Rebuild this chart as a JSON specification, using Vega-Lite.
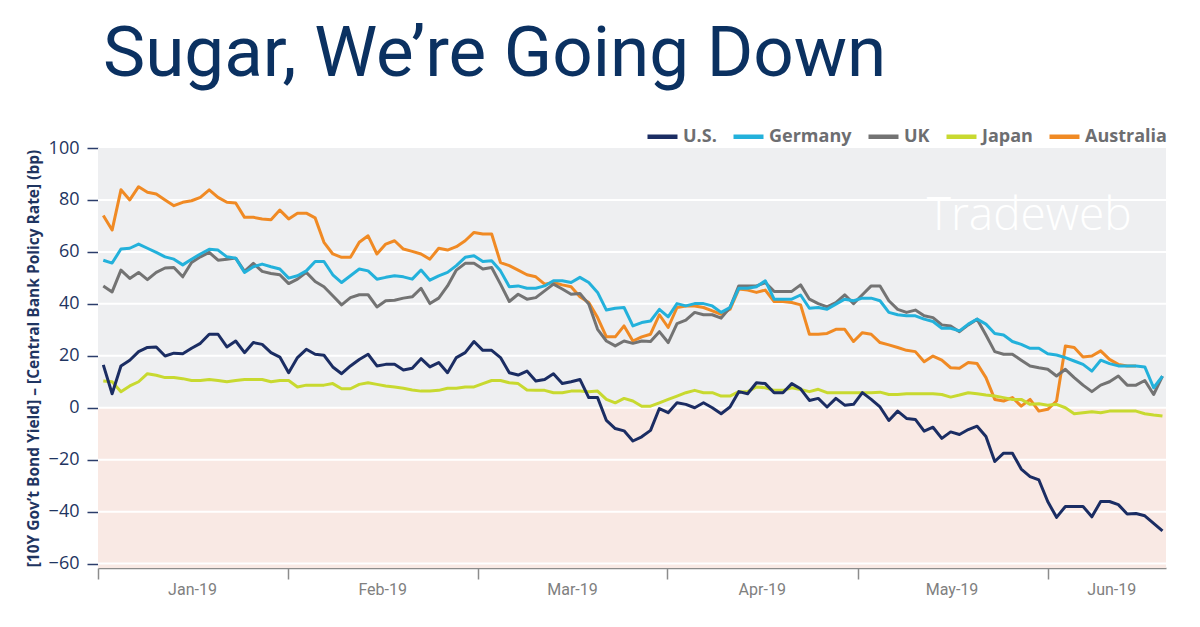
{
  "$schema": "https://vega.github.io/schema/vega-lite/v6.json",
  "width": 1068,
  "height": 420,
  "autosize": {"type": "none"},
  "padding": {"left": 98, "top": 148, "right": 34, "bottom": 59},
  "background": "white",
  "config": {"view": {"stroke": null}},
  "title": {
    "text": "Sugar, We’re Going Down",
    "anchor": "start",
    "frame": "group",
    "font": "Roboto",
    "fontSize": 71,
    "fontWeight": "normal",
    "color": "#0b3161",
    "baseline": "alphabetic",
    "dx": 5,
    "offset": -28
  },
  "layer": [
    {
      "data": {"values": [{"lo": 0, "hi": 100}, {"lo": -61.7, "hi": 0}]},
      "mark": {"type": "rect"},
      "encoding": {
        "x": {"datum": -0.6, "type": "quantitative"},
        "x2": {"datum": 120.4},
        "y": {"field": "lo", "type": "quantitative"},
        "y2": {"field": "hi"},
        "color": {"condition": {"test": "datum.lo >= 0", "value": "#eeeff1"}, "value": "#f9e9e4"}
      }
    },
    {
      "data": {"values": [{"g": -60}, {"g": -40}, {"g": -20}, {"g": 0}, {"g": 20}, {"g": 40}, {"g": 60}, {"g": 80}]},
      "mark": {"type": "rule", "color": "#ffffff", "strokeWidth": 2},
      "encoding": {"y": {"field": "g", "type": "quantitative"}}
    },
    {
      "data": {"values": [{"label": "Tradeweb"}]},
      "mark": {"type": "text", "font": "Open Sans", "fontWeight": 300, "fontSize": 46, "color": "#ffffff", "align": "left", "baseline": "alphabetic"},
      "encoding": {
        "x": {"datum": 93.3, "type": "quantitative"},
        "y": {"datum": 68.4, "type": "quantitative"},
        "text": {"field": "label"}
      }
    },
    {
      "data": {"values": [
        {"day":0,"US":16.5,"Germany":56.8,"UK":46.9,"Japan":10.3,"Australia":74.0},
        {"day":1,"US":5.4,"Germany":55.7,"UK":44.6,"Japan":10.0,"Australia":68.4},
        {"day":2,"US":16.1,"Germany":61.1,"UK":53.0,"Japan":6.2,"Australia":83.9},
        {"day":3,"US":18.3,"Germany":61.4,"UK":49.8,"Japan":8.4,"Australia":80.0},
        {"day":4,"US":21.6,"Germany":63.0,"UK":52.1,"Japan":10.0,"Australia":85.1},
        {"day":5,"US":23.2,"Germany":61.4,"UK":49.3,"Japan":13.1,"Australia":83.0},
        {"day":6,"US":23.4,"Germany":59.8,"UK":52.1,"Japan":12.5,"Australia":82.3},
        {"day":7,"US":19.9,"Germany":58.1,"UK":53.8,"Japan":11.6,"Australia":80.0},
        {"day":8,"US":21.0,"Germany":57.2,"UK":54.0,"Japan":11.6,"Australia":77.8},
        {"day":9,"US":20.8,"Germany":55.0,"UK":50.4,"Japan":11.2,"Australia":79.1},
        {"day":10,"US":22.9,"Germany":57.2,"UK":55.9,"Japan":10.5,"Australia":79.7},
        {"day":11,"US":24.8,"Germany":59.2,"UK":58.1,"Japan":10.5,"Australia":81.0},
        {"day":12,"US":28.3,"Germany":61.0,"UK":59.8,"Japan":10.9,"Australia":83.9},
        {"day":13,"US":28.3,"Germany":60.7,"UK":56.8,"Japan":10.5,"Australia":81.0},
        {"day":14,"US":23.4,"Germany":58.1,"UK":57.2,"Japan":10.0,"Australia":79.1},
        {"day":15,"US":25.7,"Germany":57.6,"UK":57.6,"Japan":10.5,"Australia":78.8},
        {"day":16,"US":21.2,"Germany":52.1,"UK":52.5,"Japan":10.9,"Australia":73.3},
        {"day":17,"US":25.1,"Germany":54.3,"UK":55.6,"Japan":10.9,"Australia":73.3},
        {"day":18,"US":24.4,"Germany":55.3,"UK":52.5,"Japan":10.9,"Australia":72.7},
        {"day":19,"US":21.2,"Germany":54.3,"UK":51.7,"Japan":10.0,"Australia":72.4},
        {"day":20,"US":19.5,"Germany":53.4,"UK":51.2,"Japan":10.5,"Australia":76.1},
        {"day":21,"US":13.5,"Germany":49.9,"UK":47.8,"Japan":10.5,"Australia":72.7},
        {"day":22,"US":19.3,"Germany":50.8,"UK":49.5,"Japan":8.0,"Australia":74.9},
        {"day":23,"US":22.5,"Germany":52.7,"UK":52.1,"Japan":8.7,"Australia":74.9},
        {"day":24,"US":20.6,"Germany":56.3,"UK":48.6,"Japan":8.7,"Australia":73.1},
        {"day":25,"US":20.2,"Germany":56.3,"UK":46.6,"Japan":8.7,"Australia":63.7},
        {"day":26,"US":15.7,"Germany":51.2,"UK":43.1,"Japan":9.3,"Australia":59.2},
        {"day":27,"US":13.1,"Germany":48.2,"UK":39.6,"Japan":7.3,"Australia":57.9},
        {"day":28,"US":16.1,"Germany":50.8,"UK":42.4,"Japan":7.3,"Australia":57.9},
        {"day":29,"US":18.6,"Germany":53.4,"UK":43.5,"Japan":9.0,"Australia":63.7},
        {"day":30,"US":20.6,"Germany":52.7,"UK":43.5,"Japan":9.6,"Australia":66.2},
        {"day":31,"US":16.1,"Germany":49.5,"UK":38.8,"Japan":9.0,"Australia":59.2},
        {"day":32,"US":16.7,"Germany":50.2,"UK":41.2,"Japan":8.4,"Australia":63.0},
        {"day":33,"US":16.7,"Germany":50.8,"UK":41.4,"Japan":8.0,"Australia":64.3},
        {"day":34,"US":14.5,"Germany":50.4,"UK":42.2,"Japan":7.5,"Australia":61.1},
        {"day":35,"US":15.2,"Germany":49.5,"UK":42.7,"Japan":6.8,"Australia":60.2},
        {"day":36,"US":18.9,"Germany":53.0,"UK":46.0,"Japan":6.4,"Australia":59.2},
        {"day":37,"US":15.7,"Germany":49.1,"UK":40.1,"Japan":6.4,"Australia":57.2},
        {"day":38,"US":17.4,"Germany":50.8,"UK":42.2,"Japan":6.7,"Australia":61.4},
        {"day":39,"US":13.5,"Germany":52.1,"UK":46.9,"Japan":7.5,"Australia":60.7},
        {"day":40,"US":19.3,"Germany":54.7,"UK":53.0,"Japan":7.5,"Australia":62.0},
        {"day":41,"US":21.2,"Germany":57.9,"UK":55.6,"Japan":8.0,"Australia":64.3},
        {"day":42,"US":25.5,"Germany":58.5,"UK":55.6,"Japan":8.0,"Australia":67.5},
        {"day":43,"US":22.1,"Germany":56.3,"UK":53.4,"Japan":9.3,"Australia":66.9},
        {"day":44,"US":22.1,"Germany":56.6,"UK":54.0,"Japan":10.5,"Australia":66.9},
        {"day":45,"US":19.3,"Germany":52.7,"UK":47.6,"Japan":10.5,"Australia":55.9},
        {"day":46,"US":13.5,"Germany":46.6,"UK":40.9,"Japan":9.6,"Australia":54.7},
        {"day":47,"US":12.6,"Germany":46.9,"UK":43.7,"Japan":9.3,"Australia":53.0},
        {"day":48,"US":14.1,"Germany":46.0,"UK":41.8,"Japan":6.8,"Australia":51.2},
        {"day":49,"US":10.3,"Germany":46.0,"UK":42.4,"Japan":6.7,"Australia":50.4},
        {"day":50,"US":10.9,"Germany":46.9,"UK":45.0,"Japan":6.7,"Australia":47.6},
        {"day":51,"US":13.1,"Germany":48.9,"UK":47.6,"Japan":5.8,"Australia":48.2},
        {"day":52,"US":9.3,"Germany":48.9,"UK":45.7,"Japan":5.8,"Australia":47.3},
        {"day":53,"US":10.0,"Germany":48.2,"UK":43.7,"Japan":6.4,"Australia":46.6},
        {"day":54,"US":10.9,"Germany":50.2,"UK":44.0,"Japan":6.4,"Australia":42.7},
        {"day":55,"US":3.9,"Germany":48.2,"UK":39.9,"Japan":6.2,"Australia":40.5},
        {"day":56,"US":3.9,"Germany":44.4,"UK":30.2,"Japan":6.4,"Australia":34.7},
        {"day":57,"US":-4.9,"Germany":37.6,"UK":25.7,"Japan":3.2,"Australia":27.3},
        {"day":58,"US":-8.0,"Germany":38.3,"UK":23.8,"Japan":1.9,"Australia":27.3},
        {"day":59,"US":-8.9,"Germany":38.6,"UK":25.7,"Japan":3.6,"Australia":31.5},
        {"day":60,"US":-12.8,"Germany":31.5,"UK":24.8,"Japan":2.6,"Australia":25.7},
        {"day":61,"US":-11.2,"Germany":32.8,"UK":25.7,"Japan":0.6,"Australia":27.3},
        {"day":62,"US":-8.7,"Germany":33.4,"UK":25.5,"Japan":0.6,"Australia":28.3},
        {"day":63,"US":-0.3,"Germany":37.9,"UK":29.3,"Japan":1.9,"Australia":35.8},
        {"day":64,"US":-1.9,"Germany":35.0,"UK":25.1,"Japan":3.2,"Australia":30.9},
        {"day":65,"US":1.9,"Germany":40.1,"UK":32.4,"Japan":4.5,"Australia":38.6},
        {"day":66,"US":1.3,"Germany":39.2,"UK":33.7,"Japan":5.8,"Australia":39.2},
        {"day":67,"US":0.0,"Germany":40.1,"UK":36.7,"Japan":6.7,"Australia":39.2},
        {"day":68,"US":1.9,"Germany":40.1,"UK":35.8,"Japan":5.8,"Australia":38.6},
        {"day":69,"US":0.0,"Germany":39.2,"UK":35.8,"Japan":5.8,"Australia":37.3},
        {"day":70,"US":-2.3,"Germany":36.7,"UK":34.5,"Japan":4.5,"Australia":36.0},
        {"day":71,"US":0.3,"Germany":38.6,"UK":38.6,"Japan":4.5,"Australia":37.9},
        {"day":72,"US":6.2,"Germany":46.0,"UK":46.9,"Japan":6.2,"Australia":45.7},
        {"day":73,"US":5.4,"Germany":46.0,"UK":46.9,"Japan":6.2,"Australia":45.3},
        {"day":74,"US":9.6,"Germany":46.6,"UK":46.9,"Japan":8.0,"Australia":44.4},
        {"day":75,"US":9.3,"Germany":48.9,"UK":48.2,"Japan":7.7,"Australia":45.3},
        {"day":76,"US":5.8,"Germany":41.8,"UK":44.8,"Japan":6.7,"Australia":40.9},
        {"day":77,"US":5.8,"Germany":41.8,"UK":44.8,"Japan":6.7,"Australia":40.9},
        {"day":78,"US":9.3,"Germany":41.8,"UK":44.8,"Japan":7.7,"Australia":40.5},
        {"day":79,"US":7.3,"Germany":43.4,"UK":47.3,"Japan":7.0,"Australia":39.6},
        {"day":80,"US":2.8,"Germany":38.3,"UK":41.8,"Japan":6.2,"Australia":28.3},
        {"day":81,"US":3.6,"Germany":38.6,"UK":40.1,"Japan":7.1,"Australia":28.3},
        {"day":82,"US":0.3,"Germany":37.9,"UK":38.8,"Japan":5.8,"Australia":28.6},
        {"day":83,"US":3.6,"Germany":39.9,"UK":40.5,"Japan":5.8,"Australia":30.2},
        {"day":84,"US":1.0,"Germany":41.8,"UK":43.5,"Japan":5.8,"Australia":30.2},
        {"day":85,"US":1.3,"Germany":41.2,"UK":40.1,"Japan":5.8,"Australia":25.5},
        {"day":86,"US":5.8,"Germany":42.2,"UK":43.5,"Japan":5.8,"Australia":28.9},
        {"day":87,"US":3.2,"Germany":42.2,"UK":46.9,"Japan":5.8,"Australia":28.3},
        {"day":88,"US":0.3,"Germany":41.2,"UK":46.9,"Japan":6.0,"Australia":25.1},
        {"day":89,"US":-4.9,"Germany":36.7,"UK":41.2,"Japan":5.1,"Australia":24.2},
        {"day":90,"US":-1.3,"Germany":35.8,"UK":37.9,"Japan":5.1,"Australia":23.2},
        {"day":91,"US":-4.1,"Germany":35.4,"UK":36.7,"Japan":5.4,"Australia":22.1},
        {"day":92,"US":-4.5,"Germany":35.4,"UK":37.6,"Japan":5.4,"Australia":21.6},
        {"day":93,"US":-9.0,"Germany":34.1,"UK":35.4,"Japan":5.4,"Australia":17.7},
        {"day":94,"US":-7.5,"Germany":33.2,"UK":34.7,"Japan":5.4,"Australia":19.9},
        {"day":95,"US":-11.8,"Germany":30.6,"UK":31.9,"Japan":5.1,"Australia":18.3},
        {"day":96,"US":-9.3,"Germany":30.6,"UK":31.5,"Japan":4.1,"Australia":15.4},
        {"day":97,"US":-10.3,"Germany":29.6,"UK":29.3,"Japan":4.9,"Australia":15.2},
        {"day":98,"US":-8.4,"Germany":32.2,"UK":31.9,"Japan":5.8,"Australia":17.4},
        {"day":99,"US":-7.1,"Germany":34.1,"UK":34.1,"Japan":5.4,"Australia":17.0},
        {"day":100,"US":-11.1,"Germany":32.2,"UK":28.0,"Japan":4.9,"Australia":11.6},
        {"day":101,"US":-20.7,"Germany":28.6,"UK":21.6,"Japan":4.5,"Australia":3.2},
        {"day":102,"US":-17.5,"Germany":28.0,"UK":20.6,"Japan":3.9,"Australia":2.6},
        {"day":103,"US":-17.5,"Germany":25.5,"UK":20.6,"Japan":3.2,"Australia":3.9},
        {"day":104,"US":-23.6,"Germany":24.4,"UK":18.3,"Japan":3.2,"Australia":0.6},
        {"day":105,"US":-26.5,"Germany":22.9,"UK":16.1,"Japan":1.3,"Australia":3.2},
        {"day":106,"US":-27.8,"Germany":22.9,"UK":15.4,"Japan":1.5,"Australia":-1.3},
        {"day":107,"US":-36.1,"Germany":20.8,"UK":14.8,"Japan":1.0,"Australia":-0.6},
        {"day":108,"US":-42.2,"Germany":20.3,"UK":12.2,"Japan":1.3,"Australia":2.6},
        {"day":109,"US":-38.0,"Germany":19.3,"UK":14.8,"Japan":0.0,"Australia":23.8},
        {"day":110,"US":-38.0,"Germany":18.0,"UK":11.6,"Japan":-2.3,"Australia":23.2},
        {"day":111,"US":-38.0,"Germany":16.7,"UK":8.7,"Japan":-1.9,"Australia":19.5},
        {"day":112,"US":-42.0,"Germany":14.1,"UK":6.2,"Japan":-1.5,"Australia":19.9},
        {"day":113,"US":-36.1,"Germany":18.3,"UK":8.7,"Japan":-1.9,"Australia":21.9},
        {"day":114,"US":-36.1,"Germany":17.0,"UK":10.0,"Japan":-1.3,"Australia":18.6},
        {"day":115,"US":-37.3,"Germany":16.1,"UK":12.2,"Japan":-1.3,"Australia":16.7},
        {"day":116,"US":-40.9,"Germany":16.1,"UK":8.7,"Japan":-1.3,"Australia":16.1},
        {"day":117,"US":-40.7,"Germany":16.1,"UK":8.7,"Japan":-1.3,"Australia":16.1},
        {"day":118,"US":-41.6,"Germany":15.7,"UK":10.5,"Japan":-2.3,"Australia":null},
        {"day":119,"US":-44.5,"Germany":7.7,"UK":5.1,"Japan":-2.8,"Australia":null},
        {"day":120,"US":-47.4,"Germany":12.2,"UK":12.2,"Japan":-3.2,"Australia":null}
      ]},
      "transform": [
        {"fold": ["Australia", "UK", "Germany", "Japan", "US"], "as": ["series", "bp"]},
        {"filter": "isValid(datum.bp)"}
      ],
      "mark": {"type": "line", "strokeWidth": 3, "strokeJoin": "round"},
      "encoding": {
        "x": {
          "field": "day",
          "type": "quantitative",
          "scale": {"domain": [-0.6, 120.4], "nice": false, "zero": false},
          "axis": {
            "title": null,
            "grid": false,
            "values": [-0.6, 10.05, 20.9, 31.6, 42.4, 53.1, 63.9, 74.6, 85.5, 96.1, 107, 114.2],
            "labelExpr": "datum.value == 10.05 ? 'Jan-19' : datum.value == 31.6 ? 'Feb-19' : datum.value == 53.1 ? 'Mar-19' : datum.value == 74.6 ? 'Apr-19' : datum.value == 96.1 ? 'May-19' : datum.value == 114.2 ? 'Jun-19' : ''",
            "tickOpacity": {"condition": {"test": "indexof([-0.6, 20.9, 42.4, 63.9, 85.5, 107], datum.value) >= 0", "value": 1}, "value": 0},
            "domainColor": "#8c8c8c",
            "domainWidth": 1.5,
            "tickColor": "#8c8c8c",
            "tickWidth": 1.5,
            "tickSize": 11,
            "labelFont": "Roboto",
            "labelFontSize": 16,
            "labelColor": "#808080",
            "labelPadding": 2,
            "labelFlush": false,
            "labelOverlap": false
          }
        },
        "y": {
          "field": "bp",
          "type": "quantitative",
          "scale": {"domain": [-61.7, 100], "nice": false, "zero": false},
          "axis": {
            "title": "[10Y Gov’t Bond Yield] – [Central Bank Policy Rate] (bp)",
            "values": [-60, -40, -20, 0, 20, 40, 60, 80, 100],
            "grid": false,
            "domain": false,
            "tickColor": "#2b3d6b",
            "tickWidth": 1.5,
            "tickSize": 11,
            "labelFont": "Open Sans",
            "labelFontSize": 18,
            "labelColor": "#1f3561",
            "labelPadding": 8,
            "labelFlush": false,
            "titleFont": "Open Sans",
            "titleFontSize": 15.5,
            "titleFontWeight": "bold",
            "titleColor": "#1f3561",
            "titlePadding": 7
          }
        },
        "color": {
          "field": "series",
          "type": "nominal",
          "scale": {
            "domain": ["US", "Germany", "UK", "Japan", "Australia"],
            "range": ["#1b2d63", "#23b1db", "#737373", "#c8d930", "#f08a24"]
          },
          "legend": {
            "orient": "none",
            "legendX": 547,
            "legendY": -29,
            "direction": "horizontal",
            "title": null,
            "symbolType": "stroke",
            "symbolSize": 900,
            "symbolStrokeWidth": 4.5,
            "labelFont": "Open Sans",
            "labelFontWeight": "bold",
            "labelFontSize": 18,
            "labelColor": "#6d6e71",
            "labelOffset": 3,
            "columnPadding": 7,
            "labelExpr": "datum.label == 'US' ? 'U.S.' : datum.label"
          }
        }
      }
    }
  ]
}
